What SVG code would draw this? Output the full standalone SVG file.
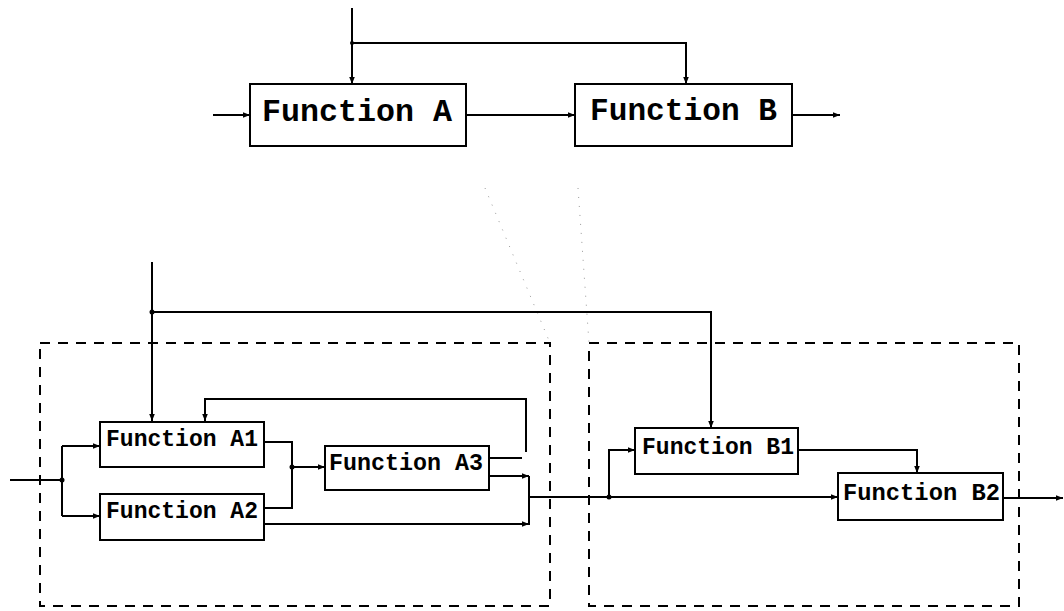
<svg xmlns="http://www.w3.org/2000/svg" width="1064" height="611" viewBox="0 0 1064 611">
<style>
.box{fill:#fff;stroke:#000;stroke-width:2}
.ln{fill:none;stroke:#000;stroke-width:2}
.ar{marker-end:url(#arr)}
.dash{fill:none;stroke:#000;stroke-width:2;stroke-dasharray:10 8}
.proj{fill:none;stroke:#999;stroke-width:1;stroke-dasharray:1 8}
.big{font-family:"Liberation Mono","DejaVu Sans Mono",monospace;font-size:32px;font-weight:bold}
.sm{font-family:"Liberation Mono","DejaVu Sans Mono",monospace;font-size:23px;font-weight:bold}
.dot{fill:#000}
</style>
<defs>
<marker id="arr" viewBox="0 0 10 10" refX="10" refY="5" markerWidth="8" markerHeight="7" markerUnits="userSpaceOnUse" orient="auto"><path d="M0,1 L10,5 L0,9 z" fill="#000"/></marker>
</defs>
<rect width="1064" height="611" fill="#fff"/>
<g id="groupA"><rect class="dash" x="40" y="343" width="510" height="263"/></g>
<g id="groupB"><rect class="dash" x="589" y="343" width="430" height="263"/></g>
<g id="connectors">
<path class="proj" d="M485,188 L550,343"/>
<path class="proj" d="M578,188 L589,343"/>
<path class="ln ar" d="M213,115 H250"/>
<path class="ln ar" d="M466,115 H575"/>
<path class="ln ar" d="M792,115 H840"/>
<path class="ln ar" d="M352,8 V84"/>
<path class="ln ar" d="M352,43 H686 V84"/>
<circle class="dot" cx="352" cy="43" r="2"/>
<path class="ln ar" d="M152,262 V421"/>
<path class="ln ar" d="M152,312 H711 V428"/>
<circle class="dot" cx="152" cy="312" r="2.5"/>
<path class="ln" d="M10,480 H62"/>
<path class="ln" d="M62,446 V516"/>
<path class="ln ar" d="M62,446 H100"/>
<path class="ln ar" d="M62,516 H100"/>
<circle class="dot" cx="62" cy="480" r="2.5"/>
<path class="ln" d="M264,442 H292 V508 H264"/>
<path class="ln ar" d="M292,467 H325"/>
<circle class="dot" cx="292" cy="467" r="2.5"/>
<path class="ln ar" d="M526,452 V399 H205 V421"/>
<path class="ln" d="M489,458 H522"/>
<path class="ln ar" d="M489,476 H529"/>
<path class="ln" d="M529,476 V525"/>
<path class="ln ar" d="M264,524 H529"/>
<path class="ln ar" d="M529,497 H838"/>
<path class="ln ar" d="M609,497 V450 H635"/>
<circle class="dot" cx="609" cy="497" r="2.5"/>
<path class="ln ar" d="M798,450 H917 V473"/>
<path class="ln ar" d="M1003,498 H1063"/>
</g>
<g id="functionA"><rect class="box" x="250" y="84" width="216" height="62"/><text class="big" x="262" y="121" textLength="190" lengthAdjust="spacingAndGlyphs">Function A</text></g>
<g id="functionB"><rect class="box" x="575" y="84" width="217" height="62"/><text class="big" x="590" y="120" textLength="187" lengthAdjust="spacingAndGlyphs">Function B</text></g>
<g id="functionA1"><rect class="box" x="100" y="422" width="164" height="45"/><text class="sm" x="106" y="446" textLength="152" lengthAdjust="spacingAndGlyphs">Function A1</text></g>
<g id="functionA2"><rect class="box" x="100" y="494" width="164" height="46"/><text class="sm" x="106" y="518" textLength="152" lengthAdjust="spacingAndGlyphs">Function A2</text></g>
<g id="functionA3"><rect class="box" x="325" y="446" width="164" height="44"/><text class="sm" x="329" y="470" textLength="154" lengthAdjust="spacingAndGlyphs">Function A3</text></g>
<g id="functionB1"><rect class="box" x="635" y="428" width="163" height="46"/><text class="sm" x="642" y="454" textLength="152" lengthAdjust="spacingAndGlyphs">Function B1</text></g>
<g id="functionB2"><rect class="box" x="838" y="473" width="165" height="47"/><text class="sm" x="843" y="500" textLength="157" lengthAdjust="spacingAndGlyphs">Function B2</text></g>
</svg>
